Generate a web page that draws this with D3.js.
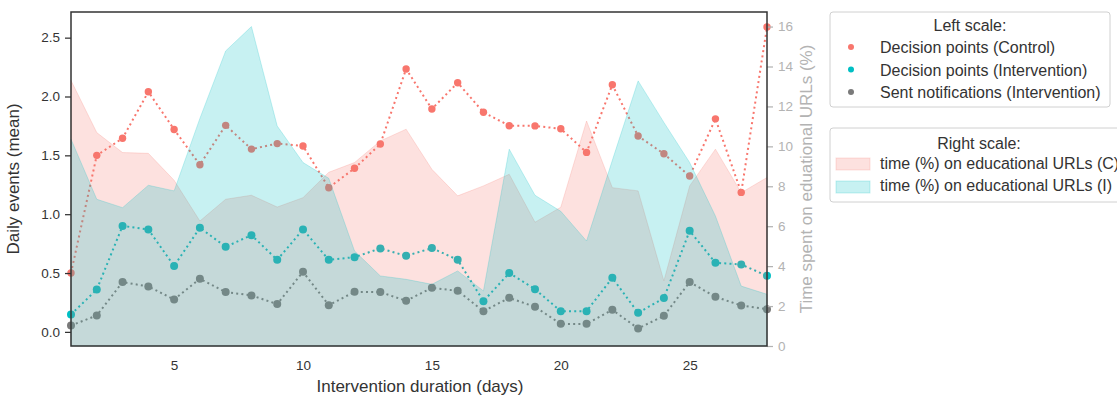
<!DOCTYPE html>
<html>
<head>
<meta charset="utf-8">
<script src="https://cdn.jsdelivr.net/npm/d3@7"></script>
<style>
  body { margin: 0; background: #fff; }
  svg { font-family: "Liberation Sans", Arial, sans-serif; }
</style>
</head>
<body>
<svg id="chart" width="1117" height="397"></svg>
<script>
// values
const days = [1, 2, 3, 4, 5, 6, 7, 8, 9, 10, 11, 12, 13, 14, 15, 16, 17, 18, 19, 20, 21, 22, 23, 24, 25, 26, 27, 28];
const decisionControl = [0.50, 1.50, 1.645, 2.04, 1.72, 1.42, 1.755, 1.553, 1.60, 1.58, 1.225, 1.39, 1.596, 2.234,
    1.894, 2.117, 1.866, 1.752, 1.75, 1.726, 1.525, 2.10, 1.664, 1.513, 1.324, 1.81, 1.185, 2.59];
const decisionIntervention = [0.148, 0.36, 0.90, 0.87, 0.56, 0.885, 0.723, 0.822, 0.612, 0.87, 0.612, 0.635, 0.709, 0.646,
    0.712, 0.612, 0.261, 0.50, 0.363, 0.176, 0.176, 0.459, 0.162, 0.287, 0.859, 0.587, 0.573, 0.476];
const sentNotifications = [0.054, 0.139, 0.423, 0.386, 0.275, 0.451, 0.338, 0.31, 0.236, 0.51, 0.227, 0.34, 0.338, 0.264,
    0.374, 0.349, 0.176, 0.289, 0.213, 0.068, 0.068, 0.187, 0.029, 0.136, 0.423, 0.298, 0.224, 0.193];
const urlTimeControl = [13.3, 10.69, 9.69, 9.65, 8.3, 6.26, 7.35, 7.55, 6.96, 7.43, 8.7, 9.19, 10.27, 10.86,
    8.85, 7.52, 8.02, 8.6, 6.2, 6.95, 11.27, 7.93, 7.77, 3.26, 8.02, 9.86, 7.68, 8.44];
const urlTimeIntervention = [10.36, 7.35, 6.93, 8.05, 7.77, 11.4, 14.78, 16.0, 11.02, 9.19, 8.4, 4.76, 3.51, 3.34,
    3.09, 3.76, 2.76, 9.86, 7.55, 6.75, 5.26, 9.3, 13.28, 11.2, 9.19, 6.51, 3.0, 2.59];

const xTicks = [5, 10, 15, 20, 25];
const leftTicks = [0.0, 0.5, 1.0, 1.5, 2.0, 2.5];
const rightTicks = [0, 2, 4, 6, 8, 10, 12, 14, 16];

const red = "#F8766D", teal = "#00BFC4", grey = "#7a7a7a";

const margin = { top: 12, right: 350, bottom: 51, left: 71 };
const width = 1117 - margin.left - margin.right;
const height = 397 - margin.top - margin.bottom;

const svg = d3.select("#chart");
const g = svg.append("g").attr("transform", `translate(${margin.left},${margin.top})`);

const x = d3.scaleLinear().domain([1, 28]).range([0, width]);
const yL = d3.scaleLinear().domain([-0.12, 2.718]).range([height, 0]);
const yR = d3.scaleLinear().domain([0, 16.73]).range([height, 0]);

// left scale: dotted lines with markers
const series = [
    { values: decisionControl, color: red, r: 3.7 },
    { values: decisionIntervention, color: teal, r: 4 },
    { values: sentNotifications, color: grey, r: 4 }
];
series.forEach(s => {
    const pts = days.map((d, i) => [d, s.values[i]]);
    g.append("path")
        .datum(pts)
        .attr("fill", "none")
        .attr("stroke", s.color)
        .attr("stroke-width", 2)
        .attr("stroke-dasharray", "2,3.2")
        .attr("d", d3.line().x(d => x(d[0])).y(d => yL(d[1])));
    g.selectAll(null)
        .data(pts)
        .join("circle")
        .attr("cx", d => x(d[0]))
        .attr("cy", d => yL(d[1]))
        .attr("r", s.r)
        .attr("fill", s.color);
});

// right scale: shaded areas on top (twin axis)
[[urlTimeControl, red], [urlTimeIntervention, teal]].forEach(([vals, col]) => {
    g.append("path")
        .datum(days.map((d, i) => [d, vals[i]]))
        .attr("fill", col)
        .attr("fill-opacity", 0.22)
        .attr("stroke", col)
        .attr("stroke-opacity", 0.22)
        .attr("d", d3.area().x(d => x(d[0])).y0(yR(0)).y1(d => yR(d[1])));
});

// axes
const xAxis = g.append("g")
    .attr("transform", `translate(0,${height})`)
    .call(d3.axisBottom(x).tickValues(xTicks).tickSize(0).tickPadding(14).tickFormat(d3.format("d")));
const leftAxis = g.append("g")
    .call(d3.axisLeft(yL).tickValues(leftTicks).tickSize(6).tickPadding(5).tickFormat(d3.format(".1f")));
const rightAxis = g.append("g")
    .attr("transform", `translate(${width},0)`)
    .call(d3.axisRight(yR).tickValues(rightTicks).tickSize(6).tickPadding(5).tickFormat(d3.format("d")));

[xAxis, leftAxis, rightAxis].forEach(a => {
    a.select(".domain").remove();
    a.selectAll("text").attr("font-size", 13.5).attr("font-family", "Liberation Sans, Arial, sans-serif");
});
xAxis.selectAll("text").attr("fill", "#333");
leftAxis.selectAll("text").attr("fill", "#333");
leftAxis.selectAll("line").attr("stroke", "#333").attr("stroke-width", 1.25);
rightAxis.selectAll("text").attr("fill", "#b3b3b3");
rightAxis.selectAll("line").attr("stroke", "#b3b3b3").attr("stroke-width", 1.25);

// frame
g.append("rect")
    .attr("width", width).attr("height", height)
    .attr("fill", "none").attr("stroke", "#333").attr("stroke-width", 1.5);

// axis titles
g.append("text")
    .attr("x", width / 2 + 1).attr("y", height + 46)
    .attr("text-anchor", "middle").attr("font-size", 17).attr("fill", "#333")
    .text("Intervention duration (days)");
g.append("text")
    .attr("transform", `translate(${-52},${height / 2}) rotate(-90)`)
    .attr("text-anchor", "middle").attr("font-size", 17).attr("fill", "#333")
    .text("Daily events (mean)");
g.append("text")
    .attr("transform", `translate(${width + 45},${height / 2}) rotate(-90)`)
    .attr("text-anchor", "middle").attr("font-size", 17).attr("fill", "#b3b3b3")
    .text("Time spent on eduational URLs (%)");

// legends
const leftLegend = [
    ["Decision points (Control)", red],
    ["Decision points (Intervention)", teal],
    ["Sent notifications (Intervention)", grey]
];
const rightLegend = [
    ["time (%) on educational URLs (C)", red],
    ["time (%) on educational URLs (I)", teal]
];

const lg1 = svg.append("g").attr("transform", "translate(830,12)");
lg1.append("rect").attr("width", 280).attr("height", 95).attr("rx", 3)
    .attr("fill", "#fff").attr("stroke", "#d0d0d0");
lg1.append("text").attr("x", 140).attr("y", 19).attr("text-anchor", "middle")
    .attr("font-size", 16).attr("fill", "#333").text("Left scale:");
leftLegend.forEach(([label, col], i) => {
    lg1.append("circle").attr("cx", 21).attr("cy", 35 + i * 22.5).attr("r", 3).attr("fill", col);
    lg1.append("text").attr("x", 50).attr("y", 41 + i * 22.5)
        .attr("font-size", 16).attr("fill", "#333").text(label);
});

const lg2 = svg.append("g").attr("transform", "translate(830,128)");
lg2.append("rect").attr("width", 298).attr("height", 74).attr("rx", 3)
    .attr("fill", "#fff").attr("stroke", "#d0d0d0");
lg2.append("text").attr("x", 149).attr("y", 21).attr("text-anchor", "middle")
    .attr("font-size", 16).attr("fill", "#333").text("Right scale:");
rightLegend.forEach(([label, col], i) => {
    lg2.append("rect").attr("x", 6).attr("y", 30 + i * 23).attr("width", 34).attr("height", 12)
        .attr("fill", col).attr("fill-opacity", 0.22).attr("stroke", col).attr("stroke-opacity", 0.22);
    lg2.append("text").attr("x", 50).attr("y", 41 + i * 22)
        .attr("font-size", 16).attr("fill", "#333").text(label);
});
</script>
</body>
</html>
